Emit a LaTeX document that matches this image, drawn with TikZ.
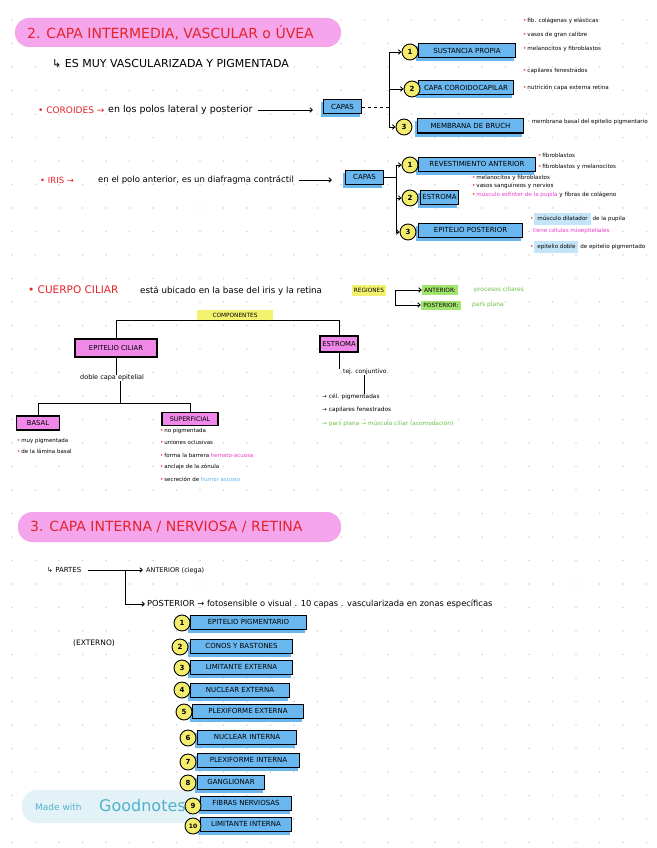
\documentclass[tikz,border=0pt]{standalone}
\usepackage{fontspec}
\setmainfont{DejaVu Sans}
\usetikzlibrary{arrows.meta}
\definecolor{redT}{HTML}{E3242B}
\definecolor{pinkH}{HTML}{F5A5EC}
\definecolor{blueF}{HTML}{6AB7F0}
\definecolor{yellowC}{HTML}{F4EC6C}
\definecolor{pinkB}{HTML}{EF88E9}
\definecolor{yellowH}{HTML}{F3F26E}
\definecolor{greenH}{HTML}{A3E46E}
\definecolor{greenT}{HTML}{6DBE45}
\definecolor{magT}{HTML}{EE3BCB}
\definecolor{blueH}{HTML}{C4E4F8}
\definecolor{blueT}{HTML}{5AB2EA}
\definecolor{wmF}{HTML}{E2F2F7}
\definecolor{wmT}{HTML}{50B2CA}
\definecolor{dotC}{HTML}{D5D5D5}
\pgfdeclarelayer{bg}\pgfdeclarelayer{mid}\pgfsetlayers{bg,mid,main}
\newcommand\fsz[1]{\fontsize{#1}{#1}\selectfont}
\newcommand\rdot{\textcolor{redT}{•}\,}
\newcommand\bbox[5]{\node[bluebox, minimum width=#4] (#1) at (#2,#3) {#5};
  \begin{pgfonlayer}{mid}\fill[blueF] ([shift={(-2pt,-3pt)}]#1.south west) rectangle ([shift={(-2pt,-3pt)}]#1.north east);\end{pgfonlayer}}
\begin{document}
\begin{tikzpicture}[x=1pt,y=-1pt,
  bluebox/.style={anchor=west, fill=blueF, draw=black, line width=1pt, minimum height=14, inner sep=1.5pt, font=\fsz{7}},
  pinkbox/.style={fill=pinkB, draw=black, line width=1.1pt, inner sep=1.5pt, font=\fsz{6.8}},
  num/.style={circle, fill=yellowC, draw=black, line width=0.9pt, minimum size=16, inner sep=0pt, font=\fsz{7}\bfseries},
  txt/.style={anchor=west, inner sep=0pt},
  note/.style={anchor=west, inner sep=0pt, font=\fsz{5.6}},
  hl/.style={inner sep=1pt, font=\fsz{5.8}},
  ln/.style={line width=0.9pt},
  arr/.style={line width=0.9pt, -{Straight Barb[length=2.5pt,width=4.5pt]}}]
\useasboundingbox (0,0) rectangle (656,848);
\begin{pgfonlayer}{bg}
\fill[white] (0,0) rectangle (656,848);
\foreach \i in {0,...,27} \foreach \j in {0,...,35} \fill[dotC] (12+23.5*\i, 20+23.5*\j) circle (0.9);
\end{pgfonlayer}

% ---------- section 2 header
\fill[pinkH, rounded corners=14pt] (15,18) rectangle (341,47);
\node[txt, text=redT, font=\fsz{14}] (t2) at (27,33) {2. CAPA INTERMEDIA, VASCULAR o ÚVEA};
\node[txt, font=\fsz{11}] (sub2) at (52,63) {↳ ES MUY VASCULARIZADA Y PIGMENTADA};

% ---------- coroides
\node[txt, text=redT, font=\fsz{9}] (cor) at (38,110) {• COROIDES →};
\node[txt, font=\fsz{9.5}] (cortx) at (108,110) {en los polos lateral y posterior};
\bbox{capA}{323}{107}{38}{CAPAS}
\draw[arr, shorten <=5pt, shorten >=10pt] (cortx.east) -- (cortx.east -| capA.west);
\bbox{a1}{418}{51}{97}{SUSTANCIA PROPIA}
\bbox{a2}{418}{88}{95}{CAPA COROIDOCAPILAR}
\bbox{a3}{417}{126}{106}{MEMBRANA DE BRUCH}
\node[num] (c1) at (410,52) {1};
\node[num] (c2) at (412,89) {2};
\node[num] (c3) at (404,127) {3};
\coordinate (cx) at (389,0);
\draw[ln, dashed] (capA.east) -- (capA.east -| cx);
\draw[ln] (c1 -| cx) -- (c3 -| cx);
\draw[arr] (c1 -| cx) -- (c1.west);
\draw[arr] (c2 -| cx) -- (c2.west);
\draw[arr] (c3 -| cx) -- (c3.west);
\node[note] (a1n1) at (523,21) {\rdot fib. colágenas y elásticas};
\node[note] (a1n2) at (523,35) {\rdot vasos de gran calibre};
\node[note] (a1n3) at (523,49) {\rdot melanocitos y fibroblastos};
\node[note] (a2n1) at (523,71) {\rdot capilares fenestrados};
\node[note] (a2n2) at (523,88) {\rdot nutrición capa externa retina};
\node[note] (a3n1) at (528,122) {· membrana basal del epitelio pigmentario};

% ---------- iris
\node[txt, text=redT, font=\fsz{8.5}] (iris) at (40,180) {• IRIS →};
\node[txt, font=\fsz{8.5}] (iristx) at (98,180) {en el polo anterior, es un diafragma contráctil};
\bbox{capB}{345}{177}{38}{CAPAS}
\draw[arr, shorten <=5pt, shorten >=13pt] (iristx.east) -- (iristx.east -| capB.west);
\bbox{b1}{418}{164}{117}{REVESTIMIENTO ANTERIOR}
\bbox{b2}{420}{197}{38}{ESTROMA}
\bbox{b3}{418}{230}{104}{EPITELIO POSTERIOR}
\node[num] (i1) at (410,165) {1};
\node[num] (i2) at (410,198) {2};
\node[num] (i3) at (408,232) {3};
\coordinate (ix) at (396,0);
\draw[ln] (capB.east) -- (capB.east -| ix);
\draw[ln] (i1 -| ix) -- (i3 -| ix);
\draw[arr] (i1 -| ix) -- (i1.west);
\draw[arr] (i2 -| ix) -- (i2.west);
\draw[arr] (i3 -| ix) -- (i3.west);
\node[note] (b1n1) at (538,155) {\rdot fibroblastos};
\node[note] (b1n2) at (538,167) {\rdot fibroblastos y melanocitos};
\node[note] (b2n1) at (472,178) {\rdot melanocitos y fibroblastos};
\node[note] (b2n2) at (472,186) {\rdot vasos sanguíneos y nervios};
\node[note] (b2n3) at (472,195) {\rdot \textcolor{magT}{músculo esfínter de la pupila} y fibras de colágeno};
\node[note] (b3n1) at (530,219) {\rdot \colorbox{blueH}{\strut músculo dilatador} de la pupila};
\node[note, text=magT] (b3n2) at (533,231) {tiene células mioepiteliales};
\node[note] (b3n3) at (530,247) {\rdot \colorbox{blueH}{\strut epitelio doble} de epitelio pigmentado};

% ---------- cuerpo ciliar
\node[txt, text=redT, font=\fsz{10.5}] (cc) at (28,290) {• CUERPO CILIAR};
\node[txt, font=\fsz{8.7}] (cctx) at (140,291) {está ubicado en la base del iris y la retina};
\node[hl, fill=yellowH, minimum width=34, minimum height=11] (reg) at (369,290) {REGIONES};
\node[hl, fill=greenH, minimum width=36, minimum height=10] (ant) at (440,290) {ANTERIOR:};
\node[hl, fill=greenH, minimum width=40, minimum height=9] (post) at (441,305) {POSTERIOR:};
\draw[arr] ([xshift=9pt]reg.east) -- (ant.west);
\draw[arr] ([xshift=9pt]reg.east) |- (post.west);
\node[note, text=greenT, font=\fsz{6}] (antx) at (474,290) {procesos ciliares};
\node[note, text=greenT, font=\fsz{6}] (postx) at (472,305) {pars plana};

\node[hl, fill=yellowH, minimum width=76, minimum height=10] (comp) at (235,315) {COMPONENTES};
\node[pinkbox, minimum width=82, minimum height=18] (epc) at (116,348) {EPITELIO CILIAR};
\node[pinkbox, minimum width=38, minimum height=16] (estr) at (339,344) {ESTROMA};
\draw[ln] (epc.north) -- (epc.north |- comp.south) -- (estr.north |- comp.south) -- (estr.north);
\node[note, font=\fsz{6.5}] (doble) at (80,378) {doble capa epitelial};
\draw[ln] (epc.south) -- (epc.south |- doble.north);
\coordinate (hb) at (120,403);
\draw[ln] (doble.south -| hb) -- (hb);
\node[pinkbox, minimum width=43, minimum height=14] (basal) at (38,423) {BASAL};
\node[pinkbox, minimum width=56, minimum height=13, font=\fsz{6.3}] (sup) at (190,419) {SUPERFICIAL};
\draw[ln] (basal.north) |- (hb);
\draw[ln] (sup.north) |- (hb);
\node[note, font=\fsz{5.5}] (bs1) at (17,441) {\rdot muy pigmentada};
\node[note, font=\fsz{5.5}] (bs2) at (17,451) {\rdot de la lámina basal};
\node[note, font=\fsz{5.5}] (sp1) at (160,431) {\rdot no pigmentada};
\node[note, font=\fsz{5.5}] (sp2) at (160,442) {\rdot uniones oclusivas};
\node[note, font=\fsz{5.5}] (sp3) at (160,455) {\rdot forma la barrera \textcolor{magT}{hemato-acuosa}};
\node[note, font=\fsz{5.5}] (sp4) at (160,467) {\rdot anclaje de la zónula};
\node[note, font=\fsz{5.5}] (sp5) at (160,479) {\rdot secreción de \textcolor{blueT}{humor acuoso}};
\node[note, font=\fsz{6}] (tej) at (343,372) {tej. conjuntivo};
\draw[ln] (estr.south) -- (estr.south |- tej.north);
\node[note, font=\fsz{5.8}] (es1) at (322,397) {→ cél. pigmentadas};
\draw[ln] (tej.south) -- (tej.south |- es1.north);
\node[note, font=\fsz{5.8}] (es2) at (322,410) {→ capilares fenestrados};
\node[note, font=\fsz{5.8}, text=greenT] (es3) at (322,424) {→ pars plana → músculo ciliar (acomodación)};

% ---------- section 3
\fill[pinkH, rounded corners=14pt] (18,512) rectangle (341,542);
\node[txt, text=redT, font=\fsz{14}] (t3) at (30,527) {3. CAPA INTERNA / NERVIOSA / RETINA};
\node[txt, font=\fsz{7}] (partes) at (47,570) {↳ PARTES};
\node[txt, font=\fsz{6.5}] (anter) at (146,571) {ANTERIOR (ciega)};
\node[txt, font=\fsz{8.3}] (poster) at (147,604) {POSTERIOR → fotosensible o visual . 10 capas . vascularizada en zonas específicas};
\coordinate (px) at (125,0);
\draw[arr, shorten <=6pt, shorten >=3pt] (partes.east) -- (partes.east -| anter.west);
\draw[arr, shorten >=2pt] (partes.east -| px) |- (poster.west);
\node[txt, font=\fsz{7.5}] (ext) at (73,643) {(EXTERNO)};

% watermark
\fill[wmF, rounded corners=15pt] (22,790) rectangle (200,823);
\node[txt, text=wmT, font=\fsz{9}] (wm1) at (35,807) {Made with};
\node[txt, text=wmT, font=\fsz{16}] (wm2) at (99,806) {Goodnotes};

\bbox{l1}{190}{622}{116}{EPITELIO PIGMENTARIO}
\bbox{l2}{190}{646}{102}{CONOS Y BASTONES}
\bbox{l3}{190}{667}{102}{LIMITANTE EXTERNA}
\bbox{l4}{190}{690}{99}{NUCLEAR EXTERNA}
\bbox{l5}{192}{711}{111}{PLEXIFORME EXTERNA}
\bbox{l6}{197}{737}{99}{NUCLEAR INTERNA}
\bbox{l7}{197}{760}{102}{PLEXIFORME INTERNA}
\bbox{l8}{197}{782}{67}{GANGLIONAR}
\bbox{l9}{200}{803}{91}{FIBRAS NERVIOSAS}
\bbox{l10}{200}{824}{91}{LIMITANTE INTERNA}
\node[num] (n1) at (182,623) {1};
\node[num] (n2) at (180,647) {2};
\node[num] (n3) at (182,668) {3};
\node[num] (n4) at (182,690) {4};
\node[num] (n5) at (184,712) {5};
\node[num] (n6) at (188,738) {6};
\node[num] (n7) at (188,762) {7};
\node[num] (n8) at (188,783) {8};
\node[num] (n9) at (193,806) {9};
\node[num, font=\fsz{6}\bfseries] (n10) at (193,826) {10};
\end{tikzpicture}
\end{document}
